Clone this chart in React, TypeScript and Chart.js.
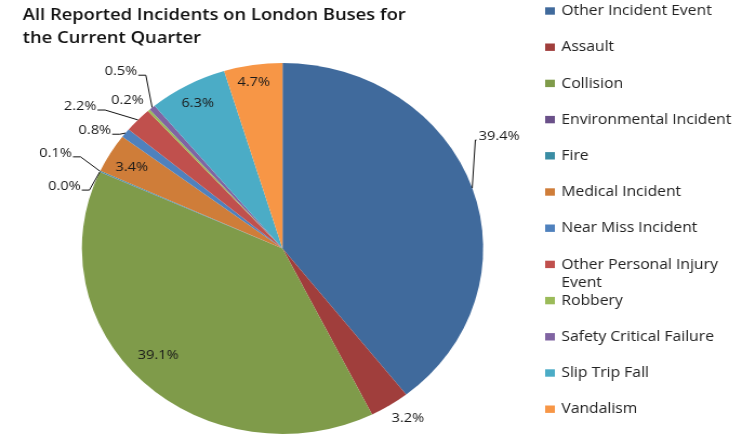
import React, { useEffect, useRef } from "react";
import { Chart, registerables } from "chart.js";

Chart.register(...registerables);

const titleLines = ["All Reported Incidents on London Buses for", "the Current Quarter"];

const categories = [
  "Other Incident Event",
  "Assault",
  "Collision",
  "Environmental Incident",
  "Fire",
  "Medical Incident",
  "Near Miss Incident",
  "Other Personal Injury Event",
  "Robbery",
  "Safety Critical Failure",
  "Slip Trip Fall",
  "Vandalism",
];

const values = [39.4, 3.2, 39.1, 0.02, 0.1, 3.4, 0.8, 2.2, 0.2, 0.5, 6.3, 4.7];

const colors = [
  "#406A9C",
  "#A03E3C",
  "#7F9B4A",
  "#6A5089",
  "#3A8DA4",
  "#CF7D39",
  "#4F81BD",
  "#C0504D",
  "#9BBB59",
  "#8064A2",
  "#4BACC6",
  "#F79646",
];

// label placement relative to each slice (radius factor, angle nudge in degrees, leader line)
const labelRadius = [1.238, 1.107, 0.845, 1.138, 1.243, 0.87, 1.132, 1.268, 1.113, 1.25, 0.89, 0.91];
const labelAngleNudge = [-10.3, -2.1, 3.3, -7.2, -0.1, -0.6, -4.2, -6.6, -2.2, 0.4, -0.1, -0.6];
const labelLeader = [true, false, false, true, true, false, true, true, false, true, false, false];

const CW = 686;
const CH = 437;
const SX = 742 / CW;
const FONT = "'Open Sans', Lato, sans-serif";

const overlayPlugin = {
  id: "overlay",
  afterDraw(chart: any) {
    const ctx = chart.ctx as CanvasRenderingContext2D;
    ctx.save();
    // title
    ctx.fillStyle = "#111";
    ctx.font = `600 17px ${FONT}`;
    ctx.textBaseline = "alphabetic";
    ctx.textAlign = "left";
    titleLines.forEach((t, i) => ctx.fillText(t, 21, 19.5 + i * 23.3));

    // legend
    ctx.font = `14.5px ${FONT}`;
    ctx.textBaseline = "middle";
    const lx = 504;
    const tx = 519;
    const maxW = 166;
    categories.forEach((c, i) => {
      const y = 11 + i * 36.2;
      ctx.fillStyle = colors[i];
      ctx.fillRect(lx, y - 3.7, 9, 7.4);
      ctx.fillStyle = "#222";
      const words = c.split(" ");
      const lines: string[] = [];
      let cur = "";
      words.forEach((w) => {
        const test = cur ? cur + " " + w : w;
        if (ctx.measureText(test).width > maxW && cur) {
          lines.push(cur);
          cur = w;
        } else cur = test;
      });
      lines.push(cur);
      lines.forEach((l, j) => ctx.fillText(l, tx, y + j * 18));
    });

    // data labels
    const meta = chart.getDatasetMeta(0);
    ctx.font = `13.5px ${FONT}`;
    ctx.textAlign = "center";
    ctx.textBaseline = "middle";
    meta.data.forEach((arc: any, i: number) => {
      const { x, y, startAngle, endAngle, outerRadius } = arc.getProps(
        ["x", "y", "startAngle", "endAngle", "outerRadius"],
        true
      );
      const mid = (startAngle + endAngle) / 2;
      const a = mid + (labelAngleNudge[i] * Math.PI) / 180;
      const r = outerRadius * labelRadius[i];
      const lx2 = x + r * Math.cos(a);
      const ly2 = y + r * Math.sin(a);
      const text = values[i].toFixed(1) + "%";
      const w = ctx.measureText(text).width;
      ctx.fillStyle = "#1a1a1a";
      ctx.fillText(text, lx2, ly2);
      if (labelLeader[i]) {
        const ex = x + outerRadius * Math.cos(mid);
        const ey = y + outerRadius * Math.sin(mid);
        const left = lx2 < x;
        const sx = left ? lx2 + w / 2 + 1 : lx2 - w / 2 - 2;
        const sy = ly2 + 4;
        const bx = left ? sx + 7 : sx - 1;
        ctx.strokeStyle = "#111";
        ctx.lineWidth = 1;
        ctx.beginPath();
        ctx.moveTo(sx, sy);
        ctx.lineTo(bx, sy);
        ctx.lineTo(ex, ey);
        ctx.stroke();
      }
    });
    ctx.restore();
  },
};

export default function App() {
  const ref = useRef<HTMLCanvasElement | null>(null);
  useEffect(() => {
    if (!ref.current) return;
    const chart = new Chart(ref.current, {
      type: "pie",
      data: {
        labels: categories,
        datasets: [
          {
            data: values,
            backgroundColor: colors,
            borderWidth: 0,
          },
        ],
      },
      options: {
        responsive: false,
        animation: false,
        layout: { padding: { left: 75.7, right: 239.3, top: 63, bottom: 3 } },
        plugins: {
          legend: { display: false },
          title: { display: false },
          tooltip: { enabled: false },
        },
      },
      plugins: [overlayPlugin],
    });
    return () => chart.destroy();
  }, []);
  return (
    <div style={{ position: "absolute", left: 0, top: 0, width: 742, height: 437, overflow: "hidden", background: "#fff" }}>
      <canvas
        ref={ref}
        width={CW}
        height={CH}
        style={{ width: CW, height: CH, transform: `scaleX(${SX})`, transformOrigin: "0 0", display: "block" }}
      />
    </div>
  );
}
